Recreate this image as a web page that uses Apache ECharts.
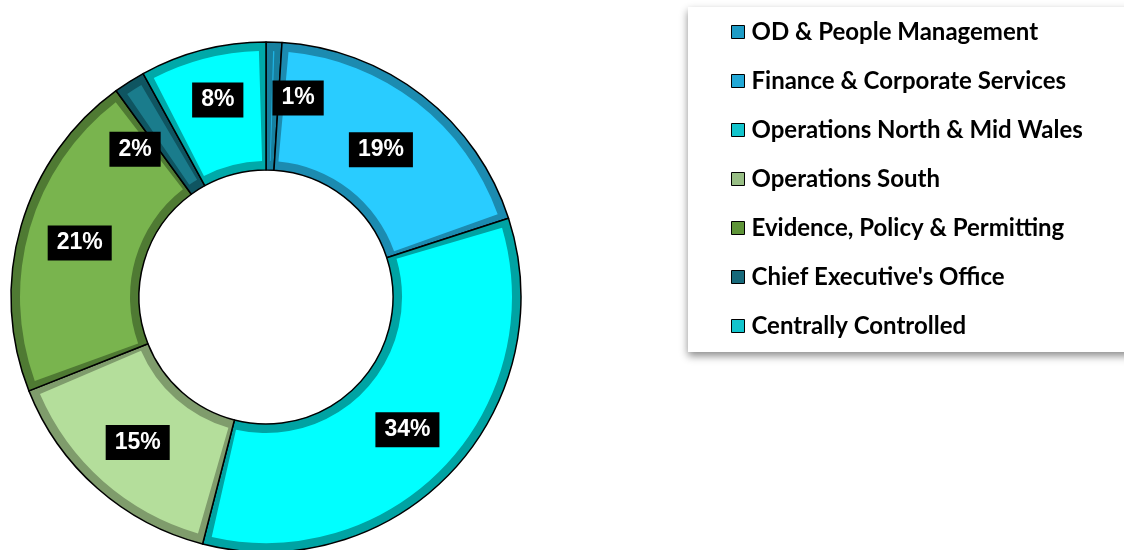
<!DOCTYPE html>
<html>
<head>
<meta charset="utf-8">
<script src="https://cdn.jsdelivr.net/npm/echarts@6/dist/echarts.min.js"></script>
<style>
  html, body { margin: 0; padding: 0; background: #fff; }
  #main { width: 1124px; height: 550px; }
</style>
</head>
<body>
<div id="main"></div>
<script>
// categories and values (percent of total)
var categories = [
  'OD & People Management',
  'Finance & Corporate Services',
  'Operations North & Mid Wales',
  'Operations South',
  'Evidence, Policy & Permitting',
  "Chief Executive's Office",
  'Centrally Controlled'
];
var values = [1, 19, 34, 15, 21, 2, 8];

// face colour and bevel colour of each slice
var faceColors = ['#1FB3E3', '#29CCFF', '#00FFFF', '#B4DE9B', '#79B44E', '#1A7C8C', '#00FFFF'];
var bevelColors = ['#17809F', '#1C8BB0', '#00A3A3', '#7F9C6C', '#4F7A33', '#0F5561', '#00A9A9'];
var legendIconColors = ['#1E9CC6', '#22A8D6', '#12C4CC', '#98BE85', '#5E9438', '#17697A', '#12C4CC'];

// small label nudges where the reference moved a label off the slice centre
var labelNudge = { 0: [26, -5], 1: [-4, 6], 5: [-27, 16], 6: [0, -9] };

var myChart = echarts.init(document.getElementById('main'));

var faceData = categories.map(function (name, i) {
  var item = { name: name, value: values[i], itemStyle: { color: faceColors[i] } };
  if (labelNudge[i]) item.label = { offset: labelNudge[i] };
  return item;
});
var baseData = categories.map(function (name, i) {
  return { name: name, value: values[i], itemStyle: { color: bevelColors[i] } };
});

var option = {
  animation: false,
  legend: {
    orient: 'vertical',
    left: 688,
    top: 7,
    padding: [13, 80, 14, 43],
    itemGap: 25,
    itemWidth: 13,
    itemHeight: 13,
    icon: 'rect',
    backgroundColor: '#fff',
    shadowColor: 'rgba(0,0,0,0.45)',
    shadowBlur: 8,
    shadowOffsetY: 4,
    selectedMode: false,
    textStyle: {
      fontFamily: 'Lato',
      fontWeight: 'bold',
      fontSize: 24,
      lineHeight: 24,
      color: '#000',
      padding: [0, 0, 0, 2]
    },
    data: categories.map(function (name, i) {
      return { name: name, itemStyle: { color: legendIconColors[i], borderColor: '#000', borderWidth: 1 } };
    })
  },
  series: [
    {
      // raised face of each slice
      name: 'face',
      type: 'pie',
      z: 3,
      center: [266, 297],
      radius: [136, 246],
      startAngle: 90,
      padAngle: 3.3,
      silent: true,
      emphasis: { disabled: true },
      label: {
        show: true,
        position: 'inside',
        formatter: '{c}%',
        color: '#fff',
        backgroundColor: '#000',
        fontFamily: 'Liberation Sans',
        fontWeight: 'bold',
        fontSize: 23,
        lineHeight: 25,
        padding: [5, 9]
      },
      labelLine: { show: false },
      data: faceData
    },
    {
      // bevel ring with black outlines
      name: 'base',
      type: 'pie',
      z: 2,
      center: [266, 297],
      radius: [127, 255],
      startAngle: 90,
      silent: true,
      emphasis: { disabled: true },
      label: { show: false },
      labelLine: { show: false },
      itemStyle: { borderColor: '#000', borderWidth: 1.5 },
      data: baseData
    }
  ]
};

myChart.setOption(option);
</script>
</body>
</html>
